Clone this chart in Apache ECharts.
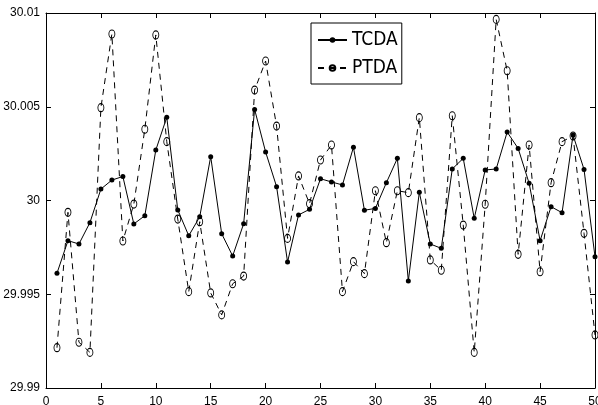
<!DOCTYPE html>
<html>
<head>
<meta charset="utf-8">
<script src="https://cdn.jsdelivr.net/npm/echarts@6/dist/echarts.min.js"></script>
<style>
html,body{margin:0;padding:0;background:#fff;}
#chart{width:598px;height:405px;}
</style>
</head>
<body>
<div id="chart"></div>
<script>
const xValues = [1,2,3,4,5,6,7,8,9,10,11,12,13,14,15,16,17,18,19,20,21,22,23,24,25,26,27,28,29,30,31,32,33,34,35,36,37,38,39,40,41,42,43,44,45,46,47,48,49,50];
const tcda = [
  29.99612, 29.99786, 29.99768, 29.99882, 30.00061, 30.00109, 30.00128, 29.99875, 29.99919, 30.00269,
  30.00444, 29.9995, 29.99812, 29.99913, 30.00234, 29.99823, 29.99704, 29.99876, 30.00486, 30.00259,
  30.00074, 29.99672, 29.99923, 29.99953, 30.00116, 30.00099, 30.00083, 30.00284, 29.99948, 29.99958,
  30.00095, 30.00225, 29.99571, 30.00044, 29.99768, 29.99745, 30.00168, 30.00225, 29.99905, 30.00163,
  30.00168, 30.00365, 30.00278, 30.00092, 29.99786, 29.99967, 29.99935, 30.00349, 30.00166, 29.997
];
const ptda = [
  29.99215, 29.99937, 29.99244, 29.9919, 30.00495, 30.00888, 29.99784, 29.99981, 30.0038, 30.00883,
  30.00314, 29.99901, 29.99514, 29.99887, 29.99507, 29.9939, 29.99556, 29.99597, 30.00589, 30.00744,
  30.00397, 29.99798, 30.00131, 29.99983, 30.00216, 30.00296, 29.99514, 29.99674, 29.9961, 30.00052,
  29.99775, 30.00052, 30.00042, 30.00442, 29.99683, 29.99628, 30.00452, 29.99869, 29.9919, 29.9998,
  30.00966, 30.00692, 29.99713, 30.00296, 29.9962, 30.00095, 30.00314, 30.00344, 29.99825, 29.99283
];
const seriesNames = ['TCDA', 'PTDA'];
const xTickLabels = ['0','5','10','15','20','25','30','35','40','45','50'];
const yTickLabels = ['29.99','29.995','30','30.005','30.01'];

const chart = echarts.init(document.getElementById('chart'));
const labelFont = {color:'#000', fontSize:12, fontFamily:'Liberation Sans, Arial, sans-serif'};
const axisBase = {
  axisLine:{show:true, onZero:false, lineStyle:{color:'#000', width:1}},
  axisTick:{show:true, inside:true, length:5, lineStyle:{color:'#000', width:1}},
  splitLine:{show:false}
};
chart.setOption({
  animation:false,
  backgroundColor:'#fff',
  grid:{left:46, right:3, top:13, bottom:17, containLabel:false, outerBoundsMode:'none'},
  legend:{
    orient:'vertical', left:311, top:23,
    data:seriesNames,
    backgroundColor:'#fff', borderColor:'#000', borderWidth:1, borderRadius:0,
    padding:[6,4,5,6], itemWidth:29, itemHeight:7, itemGap:6,
    textStyle:{color:'#000', fontSize:19, lineHeight:22, fontFamily:'Liberation Sans Narrow, Arial Narrow, DejaVu Sans Condensed, sans-serif'}
  },
  xAxis:[
    Object.assign({type:'value', min:0, max:50, interval:5, position:'bottom',
      axisLabel:Object.assign({margin:8, formatter:(v)=>xTickLabels[Math.round(v/5)]}, labelFont)}, axisBase),
    Object.assign({type:'value', min:0, max:50, interval:5, position:'top',
      axisLabel:{show:false}}, axisBase)
  ],
  yAxis:[
    Object.assign({type:'value', min:29.99, max:30.01, interval:0.005, position:'left',
      axisLabel:Object.assign({margin:6, formatter:(v)=>yTickLabels[Math.round((v-29.99)/0.005)]}, labelFont)}, axisBase),
    Object.assign({type:'value', min:29.99, max:30.01, interval:0.005, position:'right',
      axisLabel:{show:false}}, axisBase)
  ],
  series:[
    {
      name:seriesNames[0], type:'line', xAxisIndex:0, yAxisIndex:0, clip:false,
      data:xValues.map((x,i)=>[x, tcda[i]]),
      symbol:'circle', symbolSize:5,
      lineStyle:{color:'#000', width:1, type:'solid'},
      itemStyle:{color:'#000'}
    },
    {
      name:seriesNames[1], type:'line', xAxisIndex:0, yAxisIndex:0, clip:false,
      data:xValues.map((x,i)=>[x, ptda[i]]),
      symbol:'circle', symbolSize:[6,8],
      lineStyle:{color:'#000', width:1, type:[6,5]},
      itemStyle:{color:'rgba(255,255,255,0)', borderColor:'#000', borderWidth:1}
    }
  ]
});
</script>
</body>
</html>
